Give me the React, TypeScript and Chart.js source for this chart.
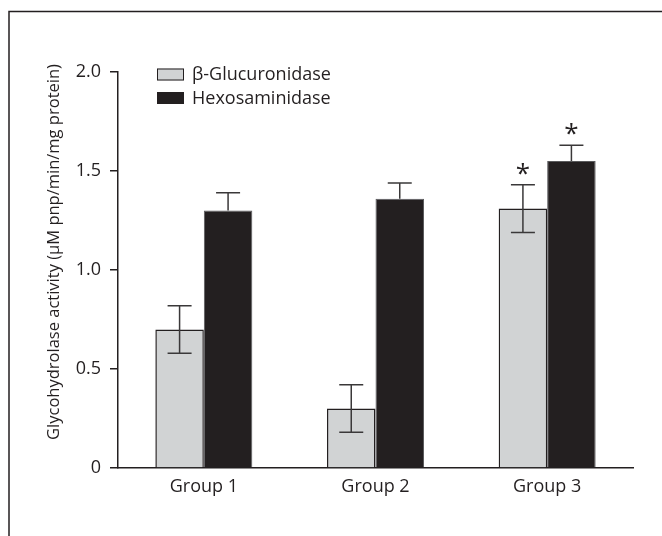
import React, { useEffect, useRef } from 'react';
import { Chart, registerables } from 'chart.js';

Chart.register(...registerables);

const categories = ['Group 1', 'Group 2', 'Group 3'];
const seriesNames = ['β-Glucuronidase', 'Hexosaminidase'];
const glucuronidase = [0.7, 0.3, 1.31];
const glucuronidaseErr = [0.12, 0.12, 0.12];
const hexosaminidase = [1.3, 1.36, 1.55];
const hexosaminidaseErr = [0.09, 0.08, 0.08];
const glucSignificant = [false, false, true];
const hexSignificant = [false, false, true];
const yTicks = [0, 0.5, 1.0, 1.5, 2.0];
const yTitle = 'Glycohydrolase activity (μM pnp/min/mg protein)';

const INK = '#231f20';
const GRAY = '#d1d3d4';
const FONT = '"Open Sans", "Noto Sans", sans-serif';

const errs = [glucuronidaseErr, hexosaminidaseErr];
const sigs = [glucSignificant, hexSignificant];

const framePlugin = {
  id: 'frame',
  beforeDraw(chart: any) {
    const ctx = chart.ctx;
    ctx.save();
    ctx.fillStyle = '#ffffff';
    ctx.fillRect(0, 0, chart.width, chart.height);
    ctx.strokeStyle = INK;
    ctx.lineWidth = 1.5;
    ctx.beginPath();
    ctx.moveTo(9, chart.height + 5);
    ctx.lineTo(9, 11.5);
    ctx.lineTo(chart.width + 5, 11.5);
    ctx.stroke();
    ctx.restore();
  },
};

const decorPlugin = {
  id: 'decor',
  afterDatasetsDraw(chart: any) {
    const ctx = chart.ctx;
    const y = chart.scales.y;
    const area = chart.chartArea;
    ctx.save();
    // error bars + asterisks
    chart.data.datasets.forEach((ds: any, di: number) => {
      const meta = chart.getDatasetMeta(di);
      meta.data.forEach((el: any, i: number) => {
        const v = ds.data[i];
        const e = errs[di][i];
        const x = el.x;
        const yt = y.getPixelForValue(v + e);
        const yb = y.getPixelForValue(v - e);
        const ym = y.getPixelForValue(v);
        ctx.strokeStyle = '#3a3839';
        ctx.lineWidth = 1.5;
        ctx.beginPath();
        ctx.moveTo(x - 12, yt);
        ctx.lineTo(x + 12, yt);
        if (di === 0) {
          ctx.moveTo(x, yt);
          ctx.lineTo(x, yb);
          ctx.moveTo(x - 12, yb);
          ctx.lineTo(x + 12, yb);
        } else {
          ctx.moveTo(x, yt);
          ctx.lineTo(x, ym);
        }
        ctx.stroke();
        if (sigs[di][i]) {
          ctx.fillStyle = INK;
          ctx.font = `26px ${FONT}`;
          ctx.textAlign = 'center';
          ctx.textBaseline = 'alphabetic';
          ctx.fillText('*', x, yt - 3);
        }
      });
    });
    // legend
    const lx = area.left + 39;
    const rows = [
      { name: seriesNames[0], fill: GRAY, y: area.top - 3.5 },
      { name: seriesNames[1], fill: INK, y: area.top + 20 },
    ];
    rows.forEach((r) => {
      ctx.fillStyle = r.fill;
      ctx.fillRect(lx, r.y, 27, 12);
      ctx.strokeStyle = INK;
      ctx.lineWidth = 1;
      ctx.strokeRect(lx + 0.5, r.y + 0.5, 26, 11);
      ctx.fillStyle = INK;
      ctx.font = `18px ${FONT}`;
      ctx.textAlign = 'left';
      ctx.textBaseline = 'middle';
      ctx.fillText(r.name, lx + 35, r.y + 6.5);
    });
    // y title
    ctx.translate(54, area.top + 180);
    ctx.rotate(-Math.PI / 2);
    ctx.fillStyle = INK;
    ctx.font = `16.5px ${FONT}`;
    ctx.textAlign = 'center';
    ctx.textBaseline = 'middle';
    ctx.fillText(yTitle, 0, 0);
    ctx.restore();
  },
};

export default function App() {
  const ref = useRef<HTMLCanvasElement | null>(null);
  useEffect(() => {
    if (!ref.current) return;
    const chart = new Chart(ref.current, {
      type: 'bar',
      data: {
        labels: categories,
        datasets: [
          {
            label: seriesNames[0],
            data: glucuronidase,
            backgroundColor: GRAY,
            borderColor: INK,
            borderWidth: 1.5,
          },
          {
            label: seriesNames[1],
            data: hexosaminidase,
            backgroundColor: INK,
            borderColor: '#5a5a5c',
            borderWidth: 1,
          },
        ],
      },
      plugins: [framePlugin, decorPlugin],
      options: {
        responsive: false,
        animation: false,
        layout: { padding: { top: 72, right: 29, left: 0, bottom: 0 } },
        plugins: { legend: { display: false }, tooltip: { enabled: false } },
        datasets: { bar: { categoryPercentage: 0.565, barPercentage: 1 } },
        scales: {
          x: {
            afterFit: (s: any) => {
              s.height = 68;
            },
            grid: { display: false },
            border: { display: true, color: INK, width: 1.5 },
            ticks: { color: INK, font: { family: FONT, size: 18 }, padding: 0 },
          },
          y: {
            min: 0,
            max: 2,
            afterFit: (s: any) => {
              s.width = 118;
            },
            afterBuildTicks: (s: any) => {
              s.ticks = yTicks.map((v) => ({ value: v }));
            },
            grid: { drawOnChartArea: false, drawTicks: true, tickLength: 8, color: INK, lineWidth: 1.5 },
            border: { display: true, color: INK, width: 1.5 },
            ticks: {
              color: INK,
              font: { family: FONT, size: 18 },
              padding: 9,
              callback: (v: any) => (Number(v) === 0 ? '0' : Number(v).toFixed(1)),
            },
          },
        },
      },
    });
    return () => chart.destroy();
  }, []);
  return (
    <div style={{ position: 'absolute', left: 0, top: 0, width: 662, height: 536, background: '#fff' }}>
      <canvas ref={ref} width={662} height={536} style={{ display: 'block' }} />
    </div>
  );
}
